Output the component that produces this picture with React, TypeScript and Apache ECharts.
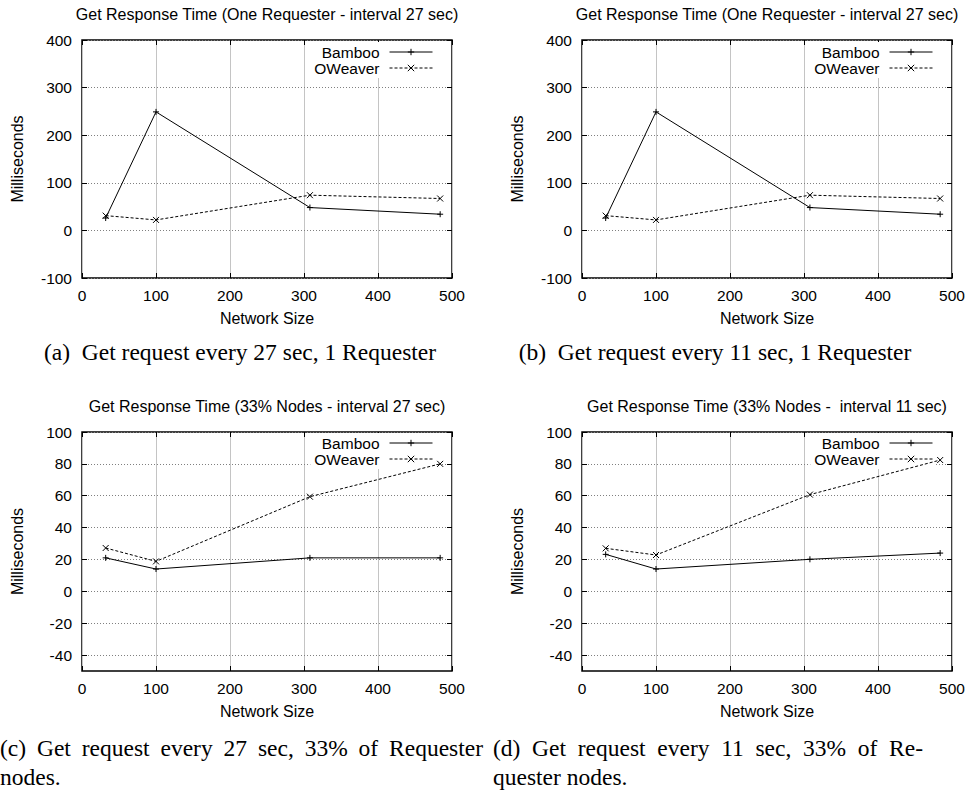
import React, { useEffect, useRef } from 'react';
import * as echarts from 'echarts';

// ---------------- data ----------------
const networkSize = [32, 100, 308, 484];

const bambooA = [26, 249, 48, 34];
const oweaverA = [31, 22, 74, 67];
const bambooB = [26, 249, 48, 34];
const oweaverB = [31, 22, 74, 67];
const bambooC = [21, 14, 21, 21];
const oweaverC = [27.2, 18.8, 59.4, 80];
const bambooD = [23.2, 14, 20.1, 24];
const oweaverD = [27, 22.8, 60.7, 82.4];

const xTicks = [0, 100, 200, 300, 400, 500];
const yTicksOne = [-100, 0, 100, 200, 300, 400];
const yTicksNodes = [-40, -20, 0, 20, 40, 60, 80, 100];

const seriesNames = ['Bamboo', 'OWeaver'];
const titles = [
  'Get Response Time (One Requester - interval 27 sec)',
  'Get Response Time (One Requester - interval 27 sec)',
  'Get Response Time (33% Nodes - interval 27 sec)',
  'Get Response Time (33% Nodes -  interval 11 sec)',
];
const xAxisName = 'Network Size';
const yAxisName = 'Milliseconds';
const captionA = '(a)  Get request every 27 sec, 1 Requester';
const captionB = '(b)  Get request every 11 sec, 1 Requester';
const captionC1 = '(c) Get request every 27 sec, 33% of Requester';
const captionC2 = 'nodes.';
const captionD1 = '(d) Get request every 11 sec, 33% of Re-';
const captionD2 = 'quester nodes.';

// ---------------- layout ----------------
const W = 975;
const H = 791;
const SANS = 'Liberation Sans';
const SERIF = 'Liberation Serif';
const CAP_SIZE = 23.5;
const GRID_W = 370;
const PLUS = 'path://M0,4L8,4M4,0L4,8';
const CROSS = 'path://M0,0L8,8M8,0L0,8';
const GRID_COLOR = '#808080';

const panels = [
  { left: 82, top: 40, height: 238, bamboo: bambooA, oweaver: oweaverA, ticks: yTicksOne, min: -100, max: 400, step: 100, title: titles[0], legendRight: 539, legendTop: 42 },
  { left: 582, top: 40, height: 238, bamboo: bambooB, oweaver: oweaverB, ticks: yTicksOne, min: -100, max: 400, step: 100, title: titles[1], legendRight: 39, legendTop: 42 },
  { left: 82, top: 432, height: 239, bamboo: bambooC, oweaver: oweaverC, ticks: yTicksNodes, min: -50, max: 100, step: 10, title: titles[2], legendRight: 539, legendTop: 433 },
  { left: 582, top: 432, height: 239, bamboo: bambooD, oweaver: oweaverD, ticks: yTicksNodes, min: -50, max: 100, step: 10, title: titles[3], legendRight: 39, legendTop: 433 },
];

let measureCtx: CanvasRenderingContext2D | null = null;
function measure(text: string, font: string): number {
  if (!measureCtx) measureCtx = document.createElement('canvas').getContext('2d');
  measureCtx!.font = font;
  return measureCtx!.measureText(text).width;
}

function textEl(text: string, x: number, y: number, align: string) {
  return {
    type: 'text',
    x,
    y,
    silent: true,
    style: {
      text,
      fontSize: CAP_SIZE,
      fontFamily: SERIF,
      fill: '#000',
      textAlign: align,
      align,
      textVerticalAlign: 'middle',
      verticalAlign: 'middle',
    },
  };
}

function justified(text: string, x0: number, x1: number, y: number) {
  const words = text.split(' ');
  const font = `${CAP_SIZE}px "${SERIF}"`;
  const widths = words.map((w) => measure(w, font));
  const total = widths.reduce((a, b) => a + b, 0);
  const gap = (x1 - x0 - total) / (words.length - 1);
  let x = x0;
  return words.map((w, i) => {
    const el = textEl(w, x, y, 'left');
    x += widths[i] + gap;
    return el;
  });
}

function buildOption() {
  const grid: any[] = [];
  const xAxis: any[] = [];
  const yAxis: any[] = [];
  const series: any[] = [];
  const legend: any[] = [];
  const title: any[] = [];
  const tickStyle = { color: '#000', width: 1 };
  const hLine = { color: GRID_COLOR, type: [1, 2], width: 1 };
  const vLine = { color: '#c4c4c4', type: 'solid', width: 1 };

  panels.forEach((p, i) => {
    grid.push({
      left: p.left,
      top: p.top,
      width: GRID_W,
      height: p.height,
      show: true,
      borderColor: '#000',
      borderWidth: 1.5,
      backgroundColor: 'transparent',
      containLabel: false,
    });
    title.push({
      text: p.title,
      left: p.left + GRID_W / 2,
      top: p.top - 34,
      textAlign: 'center',
      padding: 0,
      textStyle: { fontSize: 16, fontWeight: 'normal', color: '#000', fontFamily: SANS },
    });
    xAxis.push({
      type: 'value',
      gridIndex: i,
      position: 'bottom',
      min: xTicks[0],
      max: xTicks[xTicks.length - 1],
      interval: xTicks[1] - xTicks[0],
      name: xAxisName,
      nameLocation: 'middle',
      nameGap: 32,
      nameTextStyle: { fontSize: 16, color: '#000', fontFamily: SANS },
      axisLine: { show: false, onZero: false },
      axisTick: { show: true, inside: true, length: 5, lineStyle: tickStyle },
      axisLabel: { fontSize: 15.5, color: '#000', margin: 9, fontFamily: SANS },
      splitLine: { show: true, lineStyle: vLine },
    });
    yAxis.push({
      type: 'value',
      gridIndex: i,
      position: 'left',
      min: p.min,
      max: p.max,
      interval: p.step,
      name: yAxisName,
      nameLocation: 'middle',
      nameGap: 57,
      nameTextStyle: { fontSize: 16, color: '#000', fontFamily: SANS },
      axisLine: { show: false, onZero: false },
      axisTick: { show: true, inside: true, length: 5, lineStyle: tickStyle, customValues: p.ticks },
      axisLabel: {
        fontSize: 15.5,
        color: '#000',
        margin: 10,
        fontFamily: SANS,
        formatter: (v: number) => (p.ticks.indexOf(v) >= 0 ? String(v) : ''),
      },
      splitLine: { show: false },
    });
  });

  // mirror axes (top / right ticks)
  panels.forEach((p, i) => {
    xAxis.push({
      type: 'value',
      gridIndex: i,
      position: 'top',
      min: xTicks[0],
      max: xTicks[xTicks.length - 1],
      interval: xTicks[1] - xTicks[0],
      axisLine: { show: false, onZero: false },
      axisTick: { show: true, inside: true, length: 5, lineStyle: tickStyle },
      axisLabel: { show: false },
      splitLine: { show: false },
    });
    yAxis.push({
      type: 'value',
      gridIndex: i,
      position: 'right',
      min: p.min,
      max: p.max,
      interval: p.step,
      axisLine: { show: false, onZero: false },
      axisTick: { show: true, inside: true, length: 5, lineStyle: tickStyle, customValues: p.ticks },
      axisLabel: { show: false },
      splitLine: { show: false },
    });
  });

  panels.forEach((p, i) => {
    series.push({
      type: 'line',
      name: seriesNames[0],
      xAxisIndex: i,
      yAxisIndex: i,
      data: networkSize.map((x, k) => [x, p.bamboo[k]]),
      symbol: PLUS,
      symbolSize: 6,
      lineStyle: { color: '#000', width: 1, type: 'solid' },
      itemStyle: { color: '#000', borderColor: '#000', borderWidth: 1 },
      z: 3,
      markLine: {
        silent: true,
        z: 0,
        symbol: ['none', 'none'],
        label: { show: false },
        lineStyle: hLine,
        emphasis: { disabled: true },
        animation: false,
        data: p.ticks.map((v) => ({ yAxis: v })),
      },
    });
    series.push({
      type: 'line',
      name: seriesNames[1],
      xAxisIndex: i,
      yAxisIndex: i,
      data: networkSize.map((x, k) => [x, p.oweaver[k]]),
      symbol: CROSS,
      symbolSize: 6,
      lineStyle: { color: '#000', width: 1, type: [3, 2] },
      itemStyle: { color: '#000', borderColor: '#000', borderWidth: 1 },
      z: 3,
    });
    legend.push({
      orient: 'vertical',
      align: 'right',
      right: p.legendRight,
      top: p.legendTop,
      itemWidth: 43,
      itemHeight: 8,
      itemGap: 0,
      padding: [2, 3, 2, 4],
      backgroundColor: '#fff',
      z: 1,
      selectedMode: false,
      data: seriesNames,
      lineStyle: { width: 1 },
      itemStyle: { borderWidth: 1 },
      textStyle: { fontSize: 15.5, color: '#000', fontFamily: SANS, lineHeight: 16, padding: [0, 5, 0, 0] },
    });
  });

  const graphic: any[] = [
    textEl(captionA, 240, 352, 'center'),
    textEl(captionB, 715, 352, 'center'),
    ...justified(captionC1, 0, 483, 748),
    textEl(captionC2, 0, 777, 'left'),
    ...justified(captionD1, 493, 923, 748),
    textEl(captionD2, 493, 777, 'left'),
  ];

  return {
    animation: false,
    backgroundColor: '#fff',
    textStyle: { fontFamily: SANS },
    title,
    grid,
    xAxis,
    yAxis,
    legend,
    series,
    graphic,
  };
}

export default function App() {
  const ref = useRef<HTMLDivElement>(null);
  useEffect(() => {
    document.body.style.margin = '0';
    const chart = echarts.init(ref.current!, undefined, { renderer: 'svg', width: W, height: H });
    chart.setOption(buildOption() as any);
    return () => chart.dispose();
  }, []);
  return <div ref={ref} style={{ position: 'absolute', left: 0, top: 0, width: W, height: H }} />;
}
